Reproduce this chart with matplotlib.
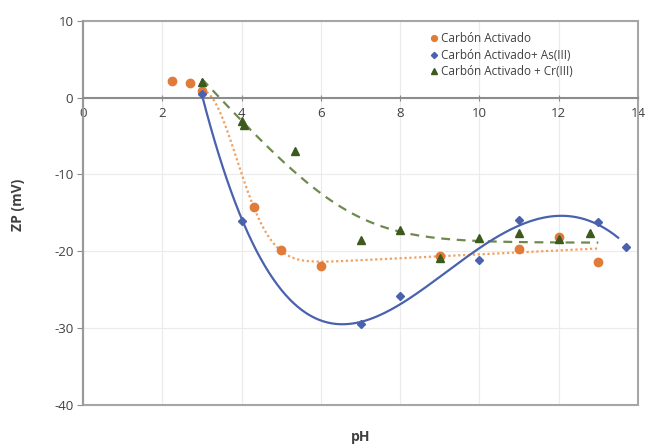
import numpy as np
import matplotlib.pyplot as plt
from matplotlib.patches import Rectangle

plt.rcParams['font.family'] = ['Open Sans', 'DejaVu Sans']
plt.rcParams['axes.unicode_minus'] = False

# Carbon activado
ph_ca = [2.25, 2.7, 3.0, 4.3, 5.0, 6.0, 9.0, 11.0, 12.0, 13.0]
zp_ca = [2.2, 1.9, 0.9, -14.2, -19.8, -21.9, -20.6, -19.7, -18.2, -21.4]

# Carbon activado + As(III)
ph_as = [3.0, 4.0, 7.0, 8.0, 10.0, 11.0, 13.0, 13.7]
zp_as = [0.5, -16.0, -29.5, -25.8, -21.1, -15.9, -16.2, -19.4]

# Carbon activado + Cr(III)
ph_cr = [3.0, 4.0, 4.05, 5.35, 7.0, 8.0, 9.0, 10.0, 11.0, 12.0, 12.8]
zp_cr = [2.0, -3.1, -3.5, -7.0, -18.5, -17.2, -20.9, -18.3, -17.6, -18.4, -17.6]

xticks = [0, 2, 4, 6, 8, 10, 12, 14]
yticks = [-40, -30, -20, -10, 0, 10]


def gauss_fit(x, y, x0):
    # y = a + b*x + c*exp(-((x-x0)/w)^2)
    x = np.asarray(x); y = np.asarray(y)
    best = None
    for w in np.linspace(0.5, 4, 200):
        A = np.column_stack([np.ones_like(x), x, np.exp(-((x-x0)/w)**2)])
        coef = np.linalg.lstsq(A, y, rcond=None)[0]
        err = np.sum((A @ coef - y)**2)
        if best is None or err < best[0]:
            best = (err, w, coef)
    _, w, c = best
    return lambda t: c[0] + c[1]*t + c[2]*np.exp(-((t-x0)/w)**2)


def hinge_fit(x, y, s):
    # smoothed hinge: y = a + b*s*log(1+exp((x0-x)/s))
    x = np.asarray(x); y = np.asarray(y)
    best = None
    for x0 in np.linspace(5, 10, 101):
        h = s*np.log1p(np.exp((x0-x)/s))
        A = np.column_stack([np.ones_like(x), h])
        coef = np.linalg.lstsq(A, y, rcond=None)[0]
        err = np.sum((A @ coef - y)**2)
        if best is None or err < best[0]:
            best = (err, x0, coef)
    _, x0, c = best
    return lambda t: c[0] + c[1]*s*np.log1p(np.exp((x0-t)/s))


fig = plt.figure(figsize=(6.49, 4.44), dpi=100)
ax = fig.add_axes([0.128, 0.088, 0.855, 0.865])

orange = '#E07B39'
blue = '#4A62AE'
green = '#3C5A1E'

# trend lines fitted to the data
m = np.array(ph_ca) >= 3
f_ca = gauss_fit(np.array(ph_ca)[m], np.array(zp_ca)[m], 3.0)
t = np.linspace(3.0, 13.0, 200)
ax.plot(t, f_ca(t), color='#F0A060', ls=(0, (1, 1.2)), lw=1.6)

f_cr = hinge_fit(ph_cr, zp_cr, 1.0)
t = np.linspace(3.0, 13.0, 200)
ax.plot(t, f_cr(t), color='#6E8A4E', ls=(0, (4, 3)), lw=1.6)

# polynomial trend line, as a spreadsheet would draw it
p_as = np.polyfit(ph_as, zp_as, 4)
t = np.linspace(3.0, 13.5, 200)
ax.plot(t, np.polyval(p_as, t), color=blue, lw=1.6)

ax.plot(ph_ca, zp_ca, 'o', color=orange, ms=6, label='Carbón Activado', zorder=5)
ax.plot(ph_as, zp_as, 'D', color=blue, ms=4.5, label='Carbón Activado+ As(III)', zorder=5)
ax.plot(ph_cr, zp_cr, '^', color=green, ms=6, label='Carbón Activado + Cr(III)', zorder=5)

ax.set_xlim(0, 14)
ax.set_ylim(-40, 10)
ax.set_xticks(xticks)
ax.set_yticks(yticks)
ax.grid(True, color='#EBEBEB', lw=0.8)
ax.set_axisbelow(True)

for s in ['top', 'right']:
    ax.spines[s].set_visible(False)
ax.spines['bottom'].set_position(('data', 0))
ax.spines['bottom'].set_color('#8C8C8C')
ax.spines['bottom'].set_linewidth(1.5)
ax.spines['left'].set_color('#9A9A9A')
ax.spines['left'].set_linewidth(1.5)
ax.add_patch(Rectangle((0, 0), 1, 1, transform=ax.transAxes, fill=False,
                       ec='#A6A6A6', lw=1.5, clip_on=False, zorder=1))

ax.tick_params(axis='x', direction='inout', length=5, color='#8C8C8C',
               labelsize=9.5, labelcolor='#404040', pad=4)
ax.tick_params(axis='y', direction='out', length=4, color='#8C8C8C',
               labelsize=9.5, labelcolor='#404040', pad=3)

ax.set_xlabel('pH', fontsize=10, fontweight='bold', color='#404040')
ax.xaxis.set_label_coords(0.5, -0.065)
ax.set_ylabel('ZP (mV)', fontsize=10, fontweight='bold', color='#404040')
ax.yaxis.set_label_coords(-0.105, 0.52)

leg = ax.legend(loc='upper left', bbox_to_anchor=(0.605, 0.995), fontsize=8.5,
                frameon=False, handletextpad=0.05, borderpad=0.3,
                labelspacing=0.3, handlelength=1.0, markerscale=0.7)
for txt in leg.get_texts():
    txt.set_color('#404040')

fig.savefig('out.png', dpi=100)
